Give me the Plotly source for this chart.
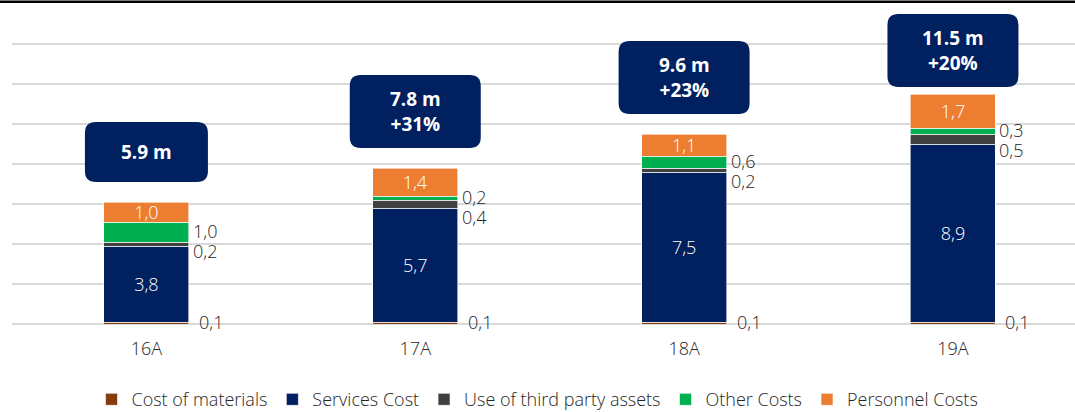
import plotly.graph_objects as go

# cost breakdown per year, in millions
years = ['16A', '17A', '18A', '19A']
cost_materials = [0.1, 0.1, 0.1, 0.1]
services_cost = [3.8, 5.7, 7.5, 8.9]
third_party = [0.2, 0.4, 0.2, 0.5]
other_costs = [1.0, 0.2, 0.6, 0.3]
personnel = [1.0, 1.4, 1.1, 1.7]

totals_label = ['5.9 m', '7.8 m<br>+31%', '9.6 m<br>+23%', '11.5 m<br>+20%']

names = ['Cost of materials', 'Services Cost', 'Use of third party assets', 'Other Costs', 'Personnel Costs']
colors = ['#843C0C', '#002060', '#404040', '#00B050', '#ED7D31']
series = [cost_materials, services_cost, third_party, other_costs, personnel]

FONT = 'Open Sans'
BAR_W = 0.316
NAVY = '#002060'
Y_MAX = 15.7
TOP_M, BOT_M, H = 10, 88, 412
PX_PER_UNIT = (H - TOP_M - BOT_M) / Y_MAX

fig = go.Figure()
for i, (nm, vals, col) in enumerate(zip(names, series, colors)):
    inside = nm in ('Services Cost', 'Personnel Costs')
    fig.add_trace(go.Bar(
        x=years, y=vals, name=nm, width=BAR_W,
        marker=dict(color=col, line=dict(color='white', width=0.6)),
        text=vals if inside else None,
        texttemplate='%{y:.1f}' if inside else None,
        textposition='inside' if inside else 'none',
        insidetextanchor='middle',
        textangle=0,
        constraintext='none',
        textfont=dict(color='white', size=18, family=FONT, weight=300),
        hoverinfo='name+y',
    ))

# outside labels for the small segments
def fmt(v):
    return ('%.1f' % v).replace('.', ',')

ann = []
for i in range(len(years)):
    base_other = cost_materials[i] + services_cost[i] + third_party[i]
    other_mid = base_other + other_costs[i] / 2
    xr = i + BAR_W / 2
    ann.append(dict(x=xr, y=other_mid, xref='x', yref='y', text=fmt(other_costs[i]),
                    xanchor='left', yanchor='middle', xshift=3, yshift=1, showarrow=False))
    ann.append(dict(x=xr, y=other_mid, xref='x', yref='y', text=fmt(third_party[i]),
                    xanchor='left', yanchor='middle', xshift=3, yshift=-19, showarrow=False))
    ann.append(dict(x=xr, y=cost_materials[i] / 2, xref='x', yref='y', text=fmt(cost_materials[i]),
                    xanchor='left', yanchor='middle', xshift=9, yshift=1, showarrow=False))
for a in ann:
    a['font'] = dict(size=18, color='#262626', family=FONT, weight=300)
    a['borderpad'] = 0

# total boxes above each bar
shapes = []
for i in range(len(years)):
    tot = cost_materials[i] + services_cost[i] + third_party[i] + other_costs[i] + personnel[i]
    two = '<br>' in totals_label[i]
    w = 131 if two else 123
    h = 73 if two else 60
    r = 11
    # 20px above the bar, but keep the box inside the slide (top edge >= 14px)
    room = (Y_MAX - tot) * PX_PER_UNIT + TOP_M - 14 - h
    b = min(20, room)
    x0, x1 = -w / 2, w / 2
    y0, y1 = b, b + h
    path = (f'M {x0 + r},{y0} L {x1 - r},{y0} Q {x1},{y0} {x1},{y0 + r} '
            f'L {x1},{y1 - r} Q {x1},{y1} {x1 - r},{y1} L {x0 + r},{y1} '
            f'Q {x0},{y1} {x0},{y1 - r} L {x0},{y0 + r} Q {x0},{y0} {x0 + r},{y0} Z')
    shapes.append(dict(type='path', xref='x', yref='y', xsizemode='pixel', ysizemode='pixel',
                       xanchor=i, yanchor=tot, path=path, fillcolor=NAVY,
                       line=dict(width=0), layer='above'))
    ann.append(dict(x=i, y=tot, xref='x', yref='y', text='<b>' + totals_label[i] + '</b>',
                    yshift=b + h / 2, xanchor='center', yanchor='middle', showarrow=False,
                    font=dict(size=19, color='white', family=FONT)))

# black rule at the top of the slide
shapes.append(dict(type='line', xref='paper', yref='paper', x0=-0.02, x1=1.0,
                   y0=1.026, y1=1.026, line=dict(color='black', width=2.5)))

fig.update_layout(
    width=1075, height=H,
    margin=dict(l=12, r=0, t=TOP_M, b=BOT_M),
    barmode='stack',
    separators=',.',
    plot_bgcolor='white', paper_bgcolor='white',
    font=dict(family=FONT, size=18, color='#262626'),
    xaxis=dict(range=[-0.5, 3.454], showgrid=False, showline=False, ticks='',
               ticklabelstandoff=12, tickfont=dict(size=18, color='#262626', weight=300)),
    yaxis=dict(range=[0, Y_MAX], dtick=2, showgrid=True, gridcolor='#D9D9D9', gridwidth=1.5,
               showticklabels=False, zeroline=True, zerolinecolor='#D9D9D9', zerolinewidth=1.5),
    legend=dict(orientation='h', x=0.5, xanchor='center', xref='container',
                y=0.03, yanchor='middle', yref='container',
                font=dict(size=18, color='#262626', family=FONT, weight=300), itemwidth=30,
                traceorder='normal'),
    shapes=shapes,
    annotations=ann,
    showlegend=True,
)

# the page has a default 8px body margin; drop it so the chart sits at the corner
fig.write_html('out.html', config={'displayModeBar': False},
               post_script="document.body.style.margin='0';")
